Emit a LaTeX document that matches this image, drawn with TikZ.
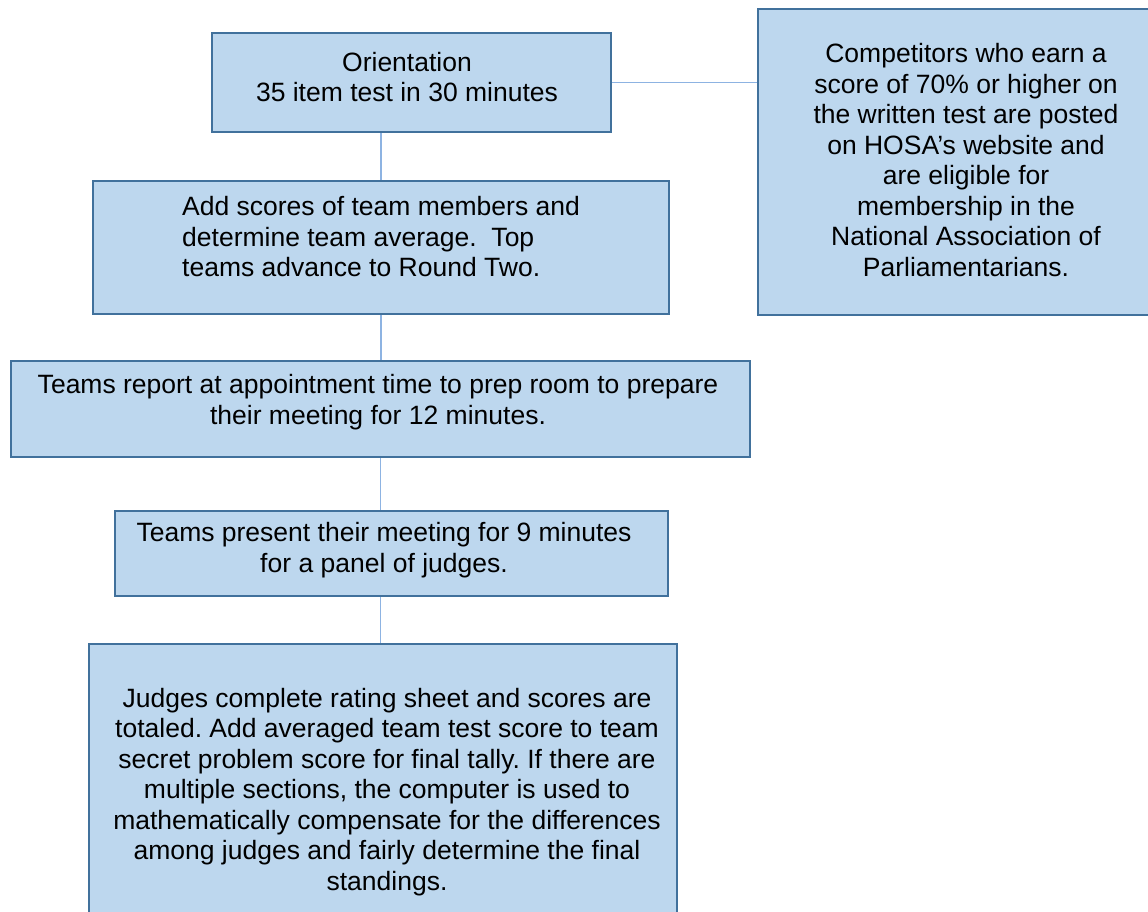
\documentclass[tikz,border=0pt]{standalone}
\usepackage{fontspec}
\setmainfont{Liberation Sans}
\usetikzlibrary{calc}
\definecolor{boxfill}{HTML}{BDD7EE}
\definecolor{boxline}{HTML}{41719C}
\definecolor{linkline}{HTML}{8DB3E2}
\frenchspacing
\begin{document}
\begin{tikzpicture}[x=1pt,y=-1pt,
    stepbox/.style={draw=boxline,fill=boxfill,line width=2pt,rectangle,anchor=north west,inner sep=0pt},
    txt/.style={font=\fontsize{26.5}{30.5}\selectfont,align=center,inner sep=0pt},
    link/.style={draw=linkline,line width=1.5pt}]
        \useasboundingbox (0,0) rectangle (1148,912);
        %% Boxes
        \node[stepbox,line width=2.3pt,minimum width=399pt,minimum height=99pt] (orient) at (211,32) {};
        \node[stepbox,minimum width=420pt,minimum height=306pt] (elig) at (757,8) {};
        \node[stepbox,minimum width=576pt,minimum height=133pt] (avg) at (92,180) {};
        \node[stepbox,minimum width=739pt,minimum height=96pt] (report) at (10,360) {};
        \node[stepbox,minimum width=553pt,minimum height=85pt] (present) at (114,510) {};
        \node[stepbox,minimum width=588pt,minimum height=300pt] (judge) at (88,643) {};
        %% Texts
        \node[txt] (orienttxt) at (407,77) {Orientation\\35 item test in 30 minutes};
        \node[txt,anchor=west,align=left] (avgtxt) at (182,237) {Add scores of team members and\\determine team average.\ \ Top\\teams advance to Round Two.};
        \node[txt] (reporttxt) at (378,402) {Teams report at appointment time to prep room to prepare\\their meeting for 12 minutes.};
        \node[txt] (presenttxt) at (384,550) {Teams present their meeting for 9 minutes\\for a panel of judges.};
        \node[txt] (judgetxt) at (387,792) {Judges complete rating sheet and scores are\\totaled. Add averaged team test score to team\\secret problem score for final tally. If there are\\multiple sections, the computer is used to\\mathematically compensate for the differences\\among judges and fairly determine the final\\standings.};
        \node[txt] (eligtxt) at (966,160) {Competitors who earn a\\score of 70\% or higher on\\the written test are posted\\on HOSA’s website and\\are eligible for\\membership in the\\National Association of\\Parliamentarians.};
        %% Links
        \draw[link] (orient.east) -- (orient.east -| elig.west);
        \draw[link] (avg.north) -- (avg.north |- orient.south);
        \draw[link] (avg.south) -- (avg.south |- report.north);
        \draw[link] (report.south) -- (report.south |- present.north);
        \draw[link] (report.south |- present.south) -- (report.south |- judge.north);
\end{tikzpicture}
\end{document}
